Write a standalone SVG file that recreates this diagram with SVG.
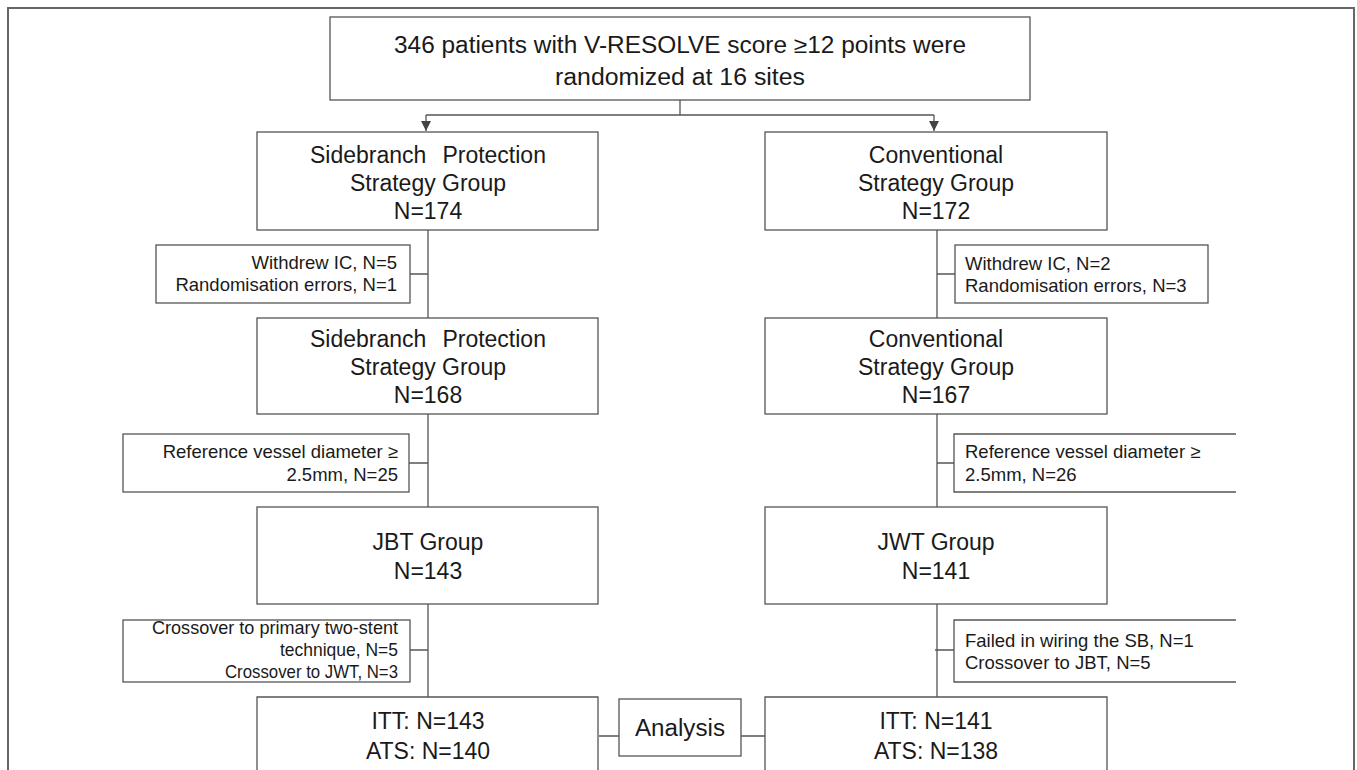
<svg xmlns="http://www.w3.org/2000/svg" width="1357" height="770" viewBox="0 0 1357 770">
<style>
.box{fill:#fff;stroke:#555;stroke-width:1.3}
.ln{fill:none;stroke:#555;stroke-width:1.3}
.frame{fill:none;stroke:#666;stroke-width:2}
text{font-family:"Liberation Sans",Arial,sans-serif;fill:#1a1a1a}
.big{font-size:23px;text-anchor:middle}
.sm{font-size:18.5px}
.r{text-anchor:end}
</style>
<defs>
<marker id="ad" markerWidth="10" markerHeight="10" refX="5" refY="10" markerUnits="userSpaceOnUse" viewBox="0 0 10 10">
<path d="M0,0 L10,0 L5,10 Z" fill="#444"/>
</marker>
</defs>
<rect width="1357" height="770" fill="#fff"/>
<path class="frame" d="M8,770 L8,8 L1354,8 L1354,770"/>
<g id="connectors">
<path class="ln" d="M680,100 L680,115"/>
<path class="ln" d="M426,115 L934,115"/>
<path class="ln" d="M426,115 L426,131" marker-end="url(#ad)"/>
<path class="ln" d="M934,115 L934,131" marker-end="url(#ad)"/>
<path class="ln" d="M428,230 L428,318 M410,274 L428,274"/>
<path class="ln" d="M937,230 L937,318 M937,274 L955,274"/>
<path class="ln" d="M428,414 L428,507 M409,463 L428,463"/>
<path class="ln" d="M937,414 L937,507 M937,463 L954,463"/>
<path class="ln" d="M428,604 L428,697 M410,650 L428,650"/>
<path class="ln" d="M937,604 L937,697 M935,650 L954,650"/>
<path class="ln" d="M599,736 L619,736 M741,736 L765,736"/>
</g>
<g id="top">
<rect class="box" x="330" y="17" width="700" height="83"/>
<text class="big" x="680" y="53" textLength="572" lengthAdjust="spacingAndGlyphs">346 patients with V-RESOLVE  score ≥12 points were</text>
<text class="big" x="680" y="85" textLength="250" lengthAdjust="spacingAndGlyphs">randomized  at 16 sites</text>
</g>
<g id="sb1">
<rect class="box" x="257" y="132" width="341" height="98"/>
<text class="big" x="428" y="163">Sidebranch<tspan dx="16">Protection</tspan></text>
<text class="big" x="428" y="191">Strategy Group</text>
<text class="big" x="428" y="219">N=174</text>
</g>
<g id="cv1">
<rect class="box" x="765" y="132" width="342" height="98"/>
<text class="big" x="936" y="163">Conventional</text>
<text class="big" x="936" y="191">Strategy Group</text>
<text class="big" x="936" y="219">N=172</text>
</g>
<g id="ex1l">
<rect class="box" x="156" y="245" width="254" height="58"/>
<text class="sm r" x="397" y="269">Withdrew IC, N=5</text>
<text class="sm r" x="397" y="291">Randomisation errors, N=1</text>
</g>
<g id="ex1r">
<rect class="box" x="955" y="245" width="253" height="58"/>
<text class="sm" x="965" y="270">Withdrew IC, N=2</text>
<text class="sm" x="965" y="292">Randomisation errors, N=3</text>
</g>
<g id="sb2">
<rect class="box" x="257" y="318" width="341" height="96"/>
<text class="big" x="428" y="347">Sidebranch<tspan dx="16">Protection</tspan></text>
<text class="big" x="428" y="375">Strategy Group</text>
<text class="big" x="428" y="403">N=168</text>
</g>
<g id="cv2">
<rect class="box" x="765" y="318" width="342" height="96"/>
<text class="big" x="936" y="347">Conventional</text>
<text class="big" x="936" y="375">Strategy Group</text>
<text class="big" x="936" y="403">N=167</text>
</g>
<g id="ex2l">
<rect class="box" x="123" y="434" width="286" height="58"/>
<text class="sm r" x="398" y="458">Reference vessel diameter ≥</text>
<text class="sm r" x="398" y="481">2.5mm, N=25</text>
</g>
<g id="ex2r">
<path class="ln" d="M1236,434 L954,434 L954,492 L1236,492"/>
<text class="sm" x="965" y="458">Reference vessel diameter ≥</text>
<text class="sm" x="965" y="481">2.5mm, N=26</text>
</g>
<g id="jbt">
<rect class="box" x="257" y="507" width="341" height="97"/>
<text class="big" x="428" y="550">JBT Group</text>
<text class="big" x="428" y="579">N=143</text>
</g>
<g id="jwt">
<rect class="box" x="765" y="507" width="342" height="97"/>
<text class="big" x="936" y="550">JWT Group</text>
<text class="big" x="936" y="579">N=141</text>
</g>
<g id="ex3l">
<rect class="box" x="123" y="620" width="287" height="62"/>
<text class="sm r" x="398" y="634" textLength="246" lengthAdjust="spacingAndGlyphs">Crossover to primary two-stent</text>
<text class="sm r" x="398" y="656" textLength="118" lengthAdjust="spacingAndGlyphs">technique, N=5</text>
<text class="sm r" x="398" y="678" textLength="173" lengthAdjust="spacingAndGlyphs">Crossover to JWT, N=3</text>
</g>
<g id="ex3r">
<path class="ln" d="M1236,620 L954,620 L954,682 L1236,682"/>
<text class="sm" x="965" y="647">Failed in wiring the SB, N=1</text>
<text class="sm" x="965" y="669">Crossover to JBT, N=5</text>
</g>
<g id="ittl">
<path class="box" d="M257,771 L257,697 L598,697 L598,771"/>
<text class="big" x="428" y="729">ITT: N=143</text>
<text class="big" x="428" y="759">ATS: N=140</text>
</g>
<g id="analysis">
<rect class="box" x="619" y="699" width="122" height="57"/>
<text class="big" x="680" y="736" textLength="90" lengthAdjust="spacingAndGlyphs">Analysis</text>
</g>
<g id="ittr">
<path class="box" d="M765,771 L765,697 L1107,697 L1107,771"/>
<text class="big" x="936" y="729">ITT: N=141</text>
<text class="big" x="936" y="759">ATS: N=138</text>
</g>
</svg>
